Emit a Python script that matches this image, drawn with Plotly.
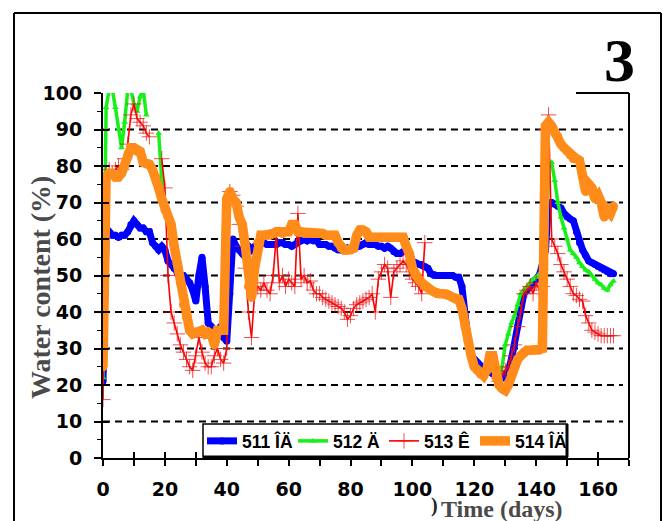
import plotly.graph_objects as go

# Daily water-content readings (%) for four sensors, day 0 .. 165
DAYS = list(range(0, 166))

WC_511 = [
    21, 61, 62, 61, 61, 60.5, 61, 61, 62, 64,
    65, 64, 63, 63, 62, 62, 59, 58, 57, 58,
    57, 54, 53, 52, 50.5, 50, 50, 49, 48, 46,
    43, 50, 55, 47, 37, 36, 35, 34, 36, 33,
    32, 45, 60, 58, 57, 56, 57, 58, 57, 58,
    58.5, 59, 59, 58.5, 58.5, 58.5, 58.5, 59, 59, 58.5,
    58.5, 58, 58.5, 59.5, 59.5, 60, 59.5, 60, 59.5, 59.5,
    58.5, 58.5, 58.5, 58, 58, 57.5, 57, 57, 57, 57.5,
    57, 57.5, 58, 58, 58.5, 59, 58.5, 58.5, 58.5, 58,
    58, 57.5, 58, 57.5, 56.5, 56, 56, 56.5, 57, 56,
    54, 53.5, 53, 53, 52.5, 52, 50.5, 50, 50, 50,
    50, 50, 50, 50, 49.5, 49.5, 47, 38, 32, 28,
    27, 26, 25, 24.5, 24, 23.5, 23, 22.5, 22, 22,
    23, 24, 27, 31, 36, 41, 45, 46, 47, 48.5,
    49, 50, 53, 57, 70, 70, 69.5, 69, 68.5, 67,
    66, 65.5, 65, 62, 59, 57, 55.5, 54, 53.5, 53,
    52.5, 52, 51.5, 51, 50.5, 50.5,
]

N = None
WC_512 = (
    [22, 96, 101, 101, 96, 90, 85, 92, 101, 101,
     97, 95, 99, 101, 94, N, N, N, 89, 76,
     69]
    + [N] * 107
    + [21, 25, 31, 34, 37, 39, 42, 45, 46, 47, 48, 49,
       49.5, 50.5, 51, 52, 80, 81, 76, 70, 66, 63,
       60, 57, 56, 55, 53.5, 52.5, 51.5, 51, 50, 49,
       48, 47.5, 46.5, 46, 47.5, 48.5]
)

WC_513 = (
    [16, 78, 79, 78, 79, 80, 79, 82, 86, 94,
     97, 93, 92, 91, 89, 88, N, N, N, 82,
     74, 50, 40, 37, 34, 31, 29, 27, 25, 24,
     28, 33, 29, 26, 25, 25, 28, 30, 27, 26,
     30, 73, 72, 69, 64, 58, 52, 40, 33, 45,
     47, 46, 48, 46, 45, 50, 61, 48, 50, 47,
     49, 48, 47, 67, 49, 50, 48, 48.5, 46, 45,
     45, 44, 43.5, 43, 42.5, 42, 41.5, 41, 40, 38,
     39, 41, 42, 42.5, 43, 43.5, 44, 45, 40, 49,
     51, 53, 52, 44, 51, 52, 53, 54, 53, 51,
     49, 48, 47, 45, 59]
    + [N] * 23
    + [21, 23, 24, 25, 28, 31, 36, 40, 45, 46, 47, 45,
       48, 46, 47, 90, 94, 60, 58, 56, 53, 51,
       49, 47, 45, 44.5, 43.5, 43, 39, 37, 35, 34.5,
       34, 33.5, 33.5, 33.5, 33.5, 33.5]
)

WC_514 = [
    25, 77, 78, 78, 77, 77, 78, 80, 83, 85,
    85, 84, 84, 81, 80.5, 80.5, 79, 77, 74, 71,
    68, 66, 64, 58, 53, 48, 42, 38.5, 35, 34,
    34.5, 34.5, 35, 34, 34.5, 34, 31, 35, 35, 35,
    71, 73, 71, 70, 66, 64, 58, 47, 44, 52,
    59, 61, 61, 61, 61, 61.5, 62, 62, 61.5, 62,
    62, 64, 64, 62, 62, 61.5, 61.5, 61.5, 61.5, 61.5,
    61.5, 61.5, 61, 61, 61, 61, 59, 57.5, 57, 57,
    57, 57.5, 61, 62.5, 62.5, 62, 60.5, 60.5, 60.5, 60.5,
    60.5, 60.5, 60.5, 60.5, 60.5, 60.5, 60.5, 60.5, 58, 56,
    52, 50, 49, 48, 47, 46.5, 46, 45.5, 45, 45,
    45, 45, 44.5, 44, 43.5, 43.5, 41, 36, 32, 28,
    25, 24, 23, 22.5, 24, 28, 28, 22, 20, 19,
    18.5, 20, 23, 25, 27, 28, 29, 29.5, 29.5, 29.5,
    29.5, 29.5, 30, 91, 92, 91, 89, 88, 86, 85,
    84, 83, 82, 82, 81.5, 77, 73, 75, 74, 71,
    72, 70, 66, 68, 67, 69,
]

SERIES_NAMES = ["511 ÎÄ", "512 Ä", "513 Ê", "514 ÎÄ"]
X_TICKS = list(range(0, 171, 10))
X_TICK_TEXT = [str(v) if v % 20 == 0 and v <= 160 else "" for v in X_TICKS]
Y_TICKS = list(range(0, 101, 10))
GRID_LEVELS = list(range(10, 100, 10))

# figure geometry (pixels)
W, H = 665, 521
ML, MR, MT, MB = 103, 36, 93, 63
PW, PH = W - ML - MR, H - MT - MB


def px_x(p):
    return (p - ML) / PW


def px_y(p):
    return (H - MB - p) / PH


fig = go.Figure()

fig.add_trace(go.Scatter(
    x=DAYS, y=WC_511, name=SERIES_NAMES[0], mode="lines+markers",
    line=dict(color="#0000ff", width=7),
    marker=dict(symbol="circle", size=7, color="#0000ff"),
))
fig.add_trace(go.Scatter(
    x=DAYS, y=WC_512, name=SERIES_NAMES[1], mode="lines+markers",
    line=dict(color="#19f019", width=3.5),
    marker=dict(symbol="triangle-up", size=6, color="#19f019"),
))
fig.add_trace(go.Scatter(
    x=DAYS, y=WC_513, name=SERIES_NAMES[2], mode="lines+markers",
    line=dict(color="#ff0000", width=1.6),
    marker=dict(symbol="cross-thin", size=11,
                line=dict(color="rgba(235,20,20,0.75)", width=1)),
))
fig.add_trace(go.Scatter(
    x=DAYS, y=WC_514, name=SERIES_NAMES[3], mode="lines+markers",
    line=dict(color="#ff8c1a", width=9.5),
    marker=dict(symbol="circle", size=9, color="#ff8c1a"),
))

tick_font = dict(family="DejaVu Sans", size=19, color="black", weight="bold")

fig.update_layout(
    width=W, height=H,
    margin=dict(l=ML, r=MR, t=MT, b=MB, pad=0),
    paper_bgcolor="white", plot_bgcolor="white",
    showlegend=True,
    legend=dict(
        orientation="h", x=px_x(202), y=px_y(441), xanchor="left", yanchor="middle",
        bgcolor="rgba(0,0,0,0)", borderwidth=0,
        font=dict(family="Liberation Sans", size=17.5, color="black", weight="bold"),
        itemwidth=30, entrywidth=46, entrywidthmode="pixels",
    ),
    xaxis=dict(
        range=[0, 170], tickvals=X_TICKS, ticktext=X_TICK_TEXT,
        ticks="outside", ticklen=6, tickwidth=1.5, tickcolor="black",
        showline=True, linecolor="black", linewidth=2,
        showgrid=False, zeroline=False, tickfont=tick_font,
        ticklabelstandoff=7,
    ),
    xaxis2=dict(
        range=[0, 170], overlaying="x", anchor="y", side="bottom",
        tickvals=X_TICKS, ticks="inside", ticklen=6, tickwidth=1.5,
        tickcolor="black", showticklabels=False, showgrid=False,
        zeroline=False, showline=False,
    ),
    yaxis=dict(
        range=[0, 100], tickvals=Y_TICKS,
        ticks="outside", ticklen=7, tickwidth=1.5, tickcolor="black",
        minor=dict(dtick=5, ticks="outside", ticklen=4, tickcolor="black",
                   tickwidth=1.2, showgrid=False),
        showline=True, linecolor="black", linewidth=2,
        showgrid=False, zeroline=False, tickfont=tick_font,
        ticklabelstandoff=8,
    ),
    yaxis2=dict(
        range=[0, 100], overlaying="y", anchor="x", side="left",
        tickvals=Y_TICKS, ticks="inside", ticklen=6, tickwidth=1.5,
        tickcolor="black", showticklabels=False, showgrid=False,
        zeroline=False, showline=False,
    ),
)

# empty trace so the overlay axes are drawn
fig.add_trace(go.Scatter(x=[None], y=[None], xaxis="x2", yaxis="y2",
                         showlegend=False, hoverinfo="skip"))

shapes = []
for v in GRID_LEVELS:
    shapes.append(dict(type="line", xref="paper", yref="y",
                       x0=0, x1=px_x(623), y0=v, y1=v, layer="below",
                       line=dict(color="black", width=2, dash="7px,5px")))
# right border of plot and short top segment
shapes.append(dict(type="line", xref="paper", yref="paper", x0=1, x1=1, y0=0, y1=1,
                   line=dict(color="black", width=2)))
shapes.append(dict(type="line", xref="paper", yref="paper", x0=px_x(576), x1=1, y0=1, y1=1,
                   line=dict(color="black", width=2)))
# outer frame
fx0, fx1, fy_top, fy_bot = px_x(14), px_x(661), px_y(13), px_y(540)
for a, b, c, d in [(fx0, fy_bot, fx0, fy_top), (fx0, fy_top, fx1, fy_top), (fx1, fy_top, fx1, fy_bot)]:
    shapes.append(dict(type="line", xref="paper", yref="paper", x0=a, y0=b, x1=c, y1=d,
                       line=dict(color="black", width=2)))
# legend box with a heavier right/bottom edge
lx0, lx1, ly0, ly1 = px_x(203), px_x(567), px_y(457), px_y(424)
shapes.append(dict(type="rect", xref="paper", yref="paper", x0=lx0, x1=lx1, y0=ly0, y1=ly1,
                   fillcolor="white", layer="above", line=dict(color="black", width=1.5)))
shapes.append(dict(type="line", xref="paper", yref="paper", x0=lx1, x1=lx1, y0=ly0, y1=ly1,
                   layer="above", line=dict(color="black", width=3)))
shapes.append(dict(type="line", xref="paper", yref="paper", x0=lx0, x1=lx1, y0=ly0, y1=ly0,
                   layer="above", line=dict(color="black", width=3)))
fig.update_layout(shapes=shapes)

serif_bold = dict(family="Liberation Serif", weight="bold")
fig.add_annotation(text="3", xref="paper", yref="paper", x=px_x(619), y=px_y(60),
                   showarrow=False, xanchor="center", yanchor="middle",
                   font=dict(size=62, color="black", **serif_bold))
fig.add_annotation(text="Water content (%)", xref="paper", yref="paper",
                   x=px_x(40), y=px_y(288), textangle=-90, showarrow=False,
                   xanchor="center", yanchor="middle",
                   font=dict(size=28, color="#4a4a4a", **serif_bold))
fig.add_annotation(text="Time (days)", xref="paper", yref="paper",
                   x=px_x(502), y=px_y(509), showarrow=False,
                   xanchor="center", yanchor="middle",
                   font=dict(size=24, color="#4a4a4a", **serif_bold))
fig.add_annotation(text=")", xref="paper", yref="paper",
                   x=px_x(434), y=px_y(505), showarrow=False,
                   xanchor="center", yanchor="middle",
                   font=dict(size=20, color="#222222", **serif_bold))

fig.write_html("out.html")
